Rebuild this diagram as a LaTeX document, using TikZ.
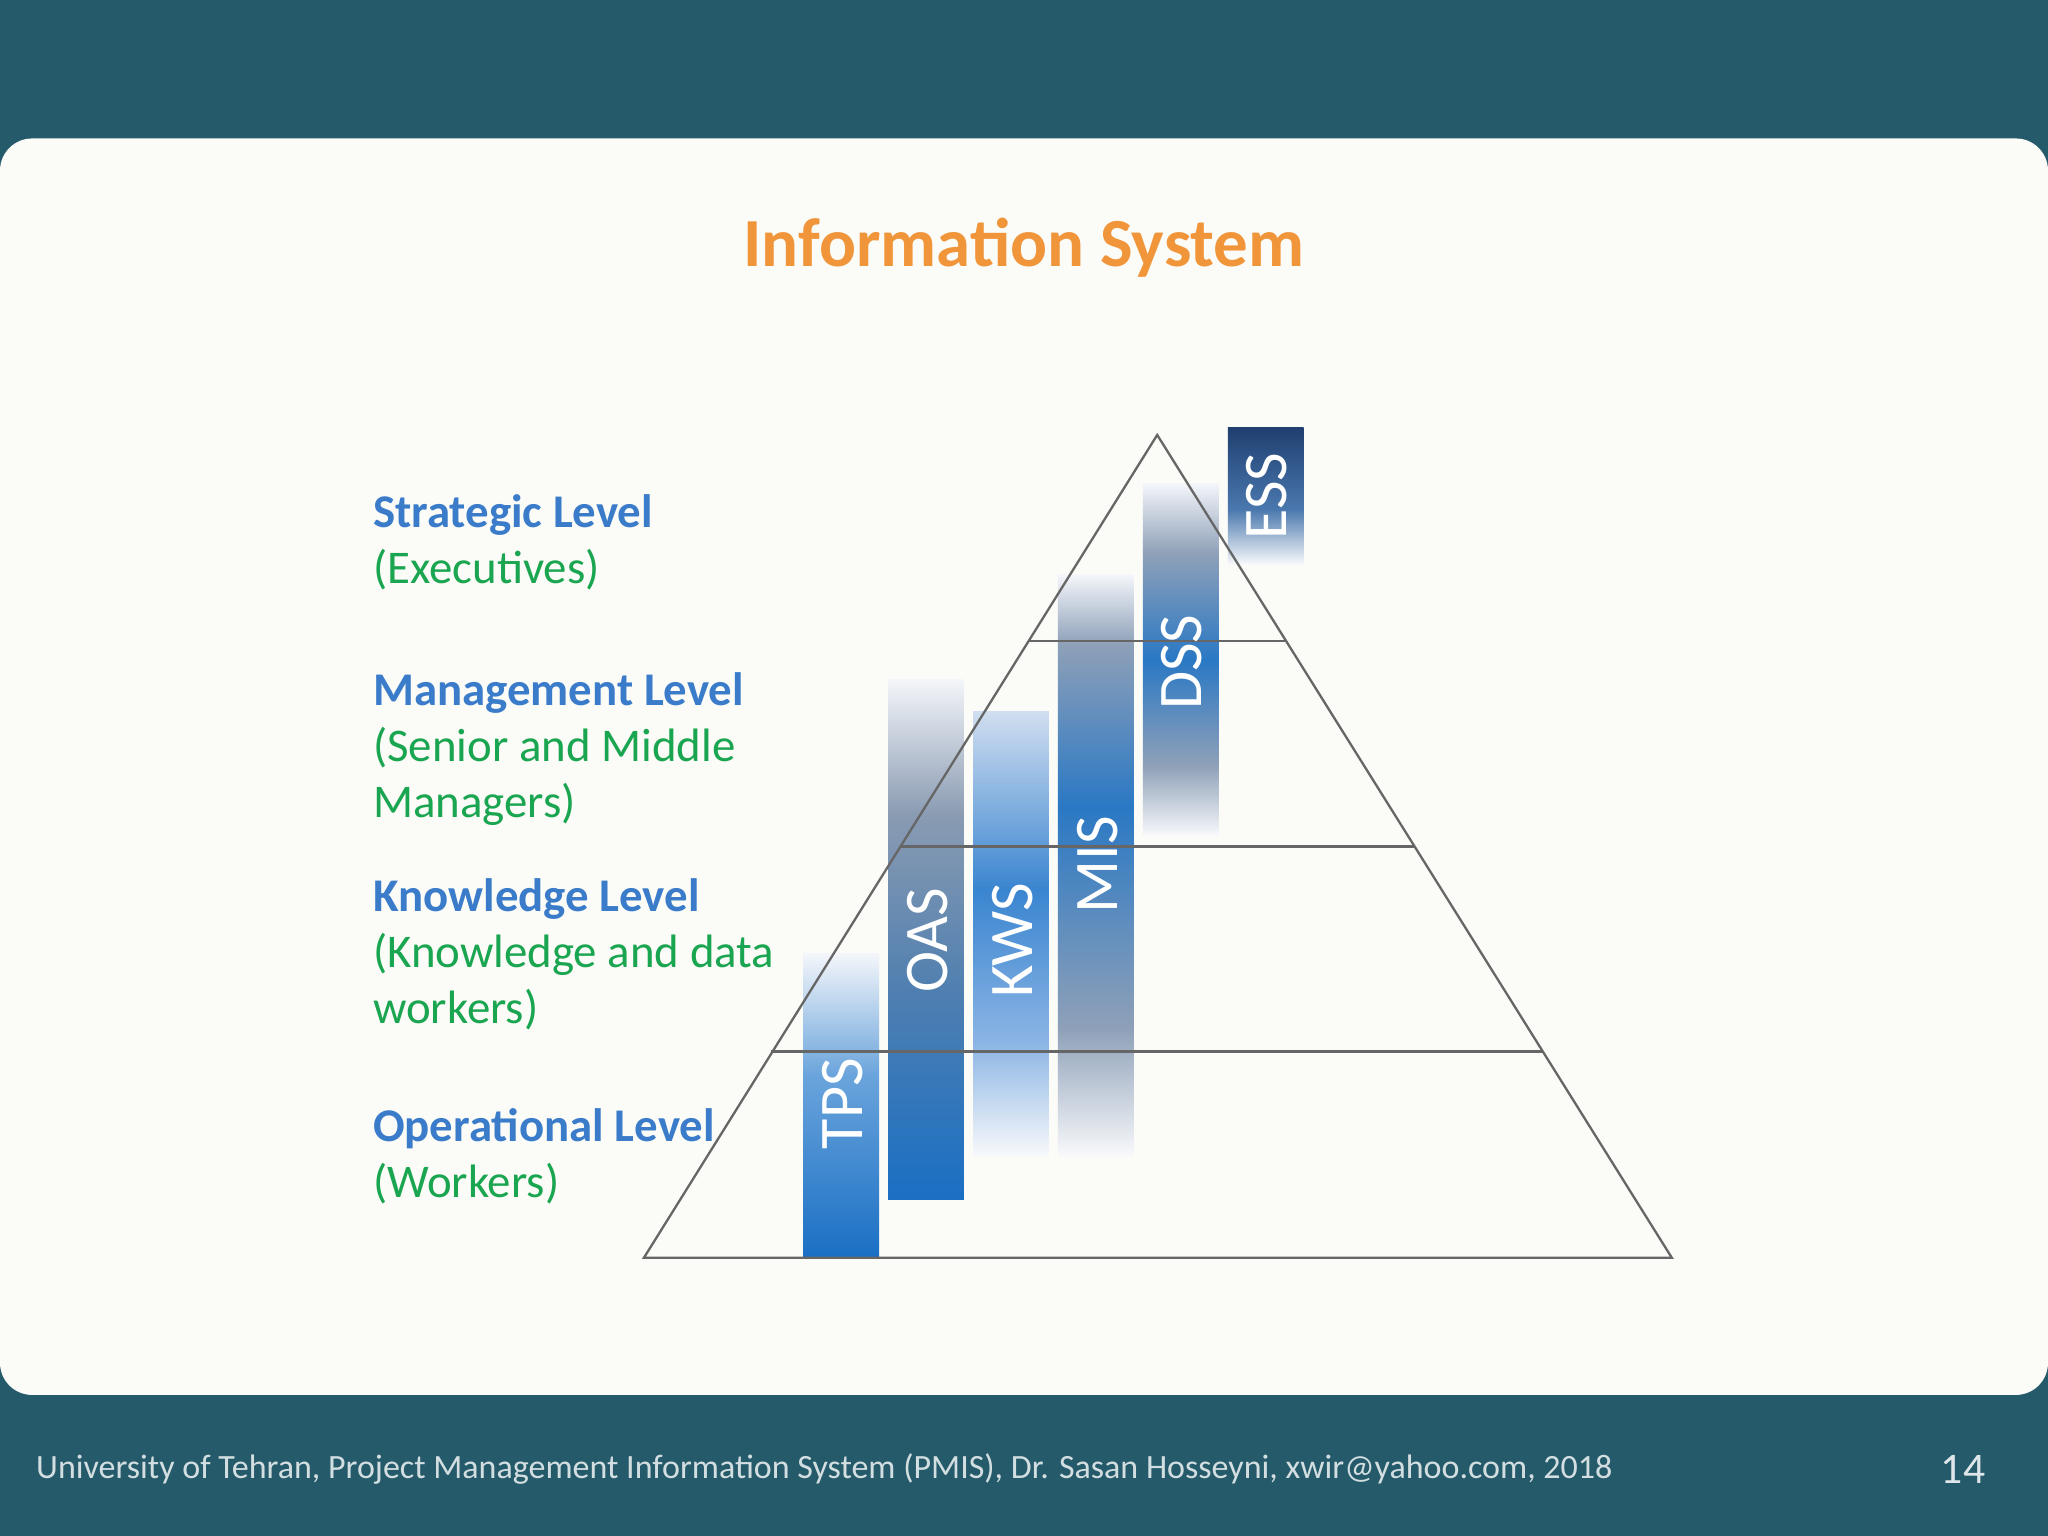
\documentclass[tikz,border=0pt]{standalone}
\usepackage{fontspec}
\setmainfont{Carlito}
\definecolor{bg}{HTML}{245A6A}
\definecolor{card}{HTML}{FBFBF7}
\definecolor{ttl}{HTML}{F0953A}
\definecolor{lvl}{HTML}{3A7CC9}
\definecolor{grn}{HTML}{1AA550}
\definecolor{cB}{HTML}{1A6FC4}
\definecolor{cLB}{HTML}{6AA4DC}
\definecolor{cF}{HTML}{F4F6FA}
\definecolor{cF2}{HTML}{F8F9FB}
\definecolor{cSt}{HTML}{4F7FB0}
\definecolor{cG}{HTML}{8A9BB2}
\definecolor{cG2}{HTML}{8EA0B8}
\definecolor{cKL}{HTML}{8AB4E4}
\definecolor{cKM}{HTML}{3A85D0}
\definecolor{cKT}{HTML}{D0DEF0}
\definecolor{cMB}{HTML}{2A78C4}
\definecolor{cEM}{HTML}{4A78AE}
\definecolor{cN}{HTML}{1F3F70}
\pgfdeclareverticalshading{tpsS}{100bp}{color(0bp)=(cB);color(25bp)=(cB);color(55bp)=(cLB);color(75bp)=(cF);color(100bp)=(cF)}
\pgfdeclareverticalshading{oasS}{100bp}{color(0bp)=(cB);color(25bp)=(cB);color(45bp)=(cSt);color(62bp)=(cG);color(75bp)=(cF);color(100bp)=(cF)}
\pgfdeclareverticalshading{kwsS}{100bp}{color(0bp)=(cF2);color(25bp)=(cF2);color(38bp)=(cKL);color(55bp)=(cKM);color(75bp)=(cKT);color(100bp)=(cKT)}
\pgfdeclareverticalshading{misS}{100bp}{color(0bp)=(cF2);color(25bp)=(cF2);color(36bp)=(cG2);color(55bp)=(cMB);color(69bp)=(cG2);color(75bp)=(cF);color(100bp)=(cF)}
\pgfdeclareverticalshading{dssS}{100bp}{color(0bp)=(cF2);color(25bp)=(cF2);color(35bp)=(cG2);color(50bp)=(cMB);color(65bp)=(cG2);color(75bp)=(cF);color(100bp)=(cF)}
\pgfdeclareverticalshading{essS}{100bp}{color(0bp)=(cF2);color(25bp)=(cF2);color(45bp)=(cEM);color(75bp)=(cN);color(100bp)=(cN)}
\begin{document}
\begin{tikzpicture}[x=0.01cm,y=-0.01cm,
  bartext/.style={rotate=90,text=white,font=\fontsize{13.5}{14}\selectfont},
  lvlname/.style={anchor=north west,align=left,font=\fontsize{10.2}{12.2}\selectfont\bfseries,text=lvl,inner sep=0},
  lvlsub/.style={anchor=north west,align=left,font=\fontsize{10.2}{12.2}\selectfont,text=grn,inner sep=0},
  tri/.style={draw=black!60,line width=0.5pt}]
\useasboundingbox (0,0) rectangle (1568,1176);
\fill[bg] (0,0) rectangle (1568,1176);
\fill[card,rounded corners=7pt] (0,106) rectangle (1568,1068);
\node[text=ttl,font=\fontsize{15}{16}\selectfont\bfseries] (title) at (784,190) {Information System};
% bars
\shade[shading=tpsS] (615,730) rectangle (673,963);
\shade[shading=oasS] (680,520) rectangle (738,918);
\shade[shading=kwsS] (745,545) rectangle (803,885);
\shade[shading=misS] (810,440) rectangle (868,885);
\shade[shading=dssS] (875,370) rectangle (933,640);
\shade[shading=essS] (940,327) rectangle (998,432);
% triangle
\coordinate (apex) at (886,333);
\coordinate (bl) at (493,963);
\coordinate (br) at (1280,963);
\draw[tri] (apex) -- (bl) -- (br) -- cycle;
\draw[tri] (788,491) -- (985,491);
\draw[tri] (690,648) -- (1083,648);
\draw[tri] (590,805) -- (1181,805);
% bar labels
\node[bartext] (tps) at (645,845) {TPS};
\node[bartext] (oas) at (710,720) {OAS};
\node[bartext] (kws) at (775,720) {KWS};
\node[bartext] (mis) at (840,662) {MIS};
\node[bartext] (dss) at (905,507) {DSS};
\node[bartext] (ess) at (970,380) {ESS};
% level labels
\node[lvlname] (s1) at (285,378) {Strategic Level};
\node[lvlsub] (s2) at (285,420) {(Executives)};
\node[lvlname] (m1) at (285,514) {Management Level};
\node[lvlsub] (m2) at (285,556) {(Senior and Middle\\Managers)};
\node[lvlname] (k1) at (285,672) {Knowledge Level};
\node[lvlsub] (k2) at (285,714) {(Knowledge and data\\workers)};
\node[lvlname] (o1) at (285,848) {Operational Level};
\node[lvlsub] (o2) at (285,890) {(Workers)};
% footer
\node[anchor=west,text=white!80!bg,font=\fontsize{7.4}{8}\selectfont,inner sep=0] (foot) at (27,1125) {University of Tehran, Project Management Information System (PMIS), Dr. Sasan Hosseyni, xwir@yahoo.com, 2018};
\node[text=white!85!bg,font=\fontsize{9.5}{10}\selectfont] (pg) at (1503,1125) {14};
\end{tikzpicture}
\end{document}
